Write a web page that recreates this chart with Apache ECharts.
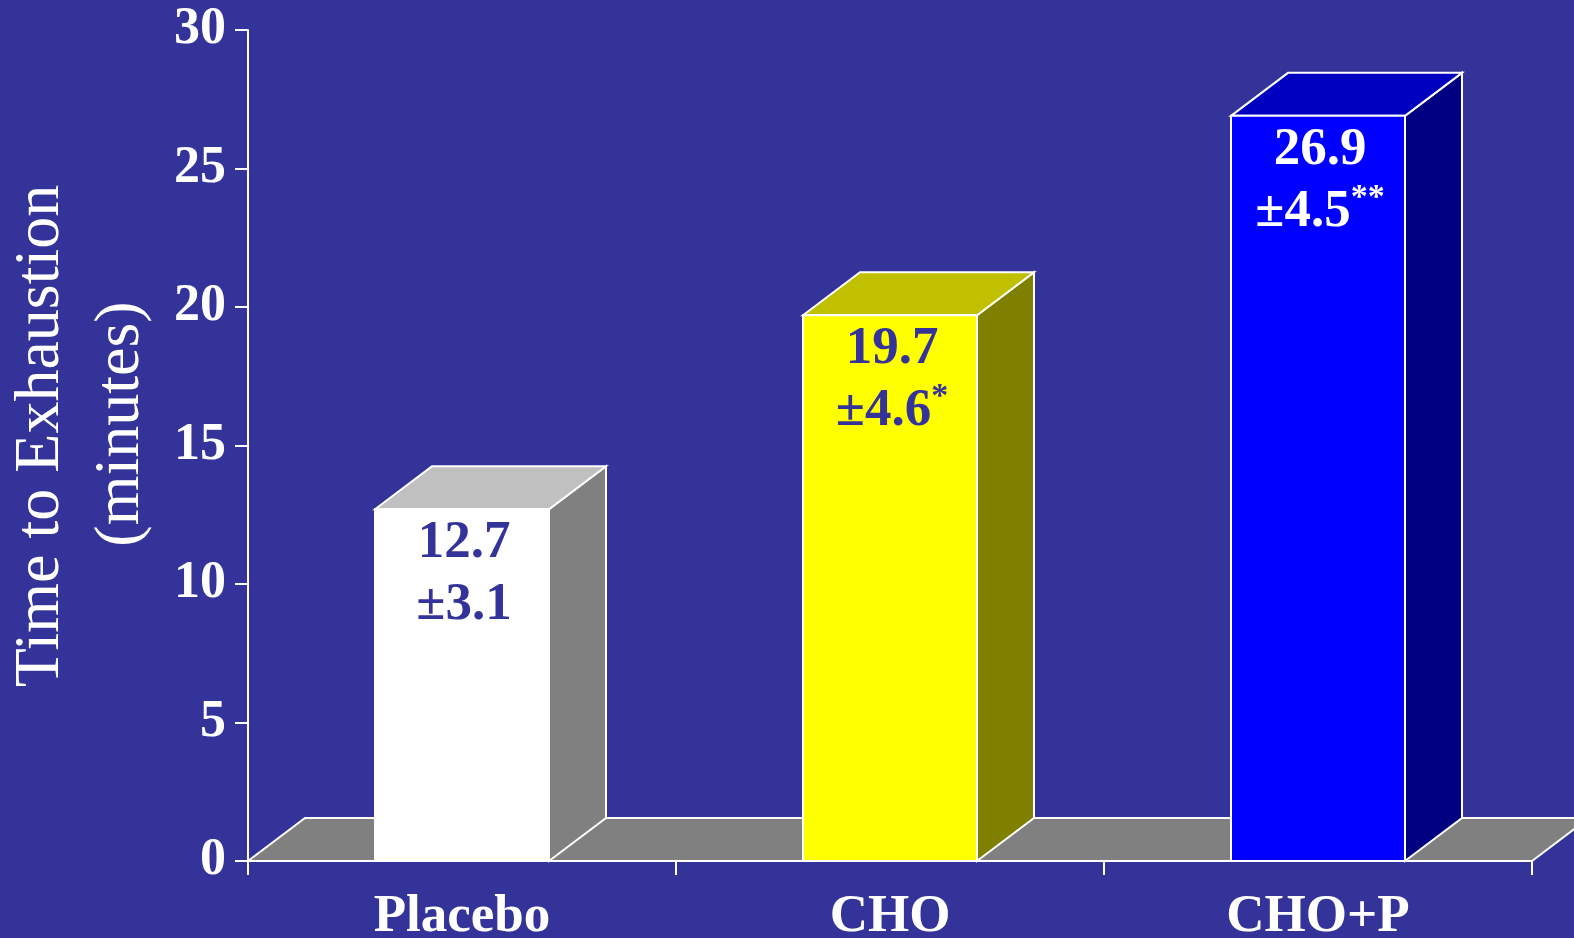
<!DOCTYPE html>
<html>
<head>
<meta charset="utf-8">
<script src="https://cdn.jsdelivr.net/npm/echarts@6/dist/echarts.min.js"></script>
<style>
  html, body { margin: 0; padding: 0; background: #333399; }
  #chart { width: 1574px; height: 938px; }
</style>
</head>
<body>
<div id="chart"></div>
<script>
// Time to exhaustion by drink condition (mean ± SD, minutes)
const categories = ['Placebo', 'CHO', 'CHO+P'];
const meanMinutes = [12.7, 19.7, 26.9];
const sdMinutes = [3.1, 4.6, 4.5];
const significance = ['', '*', '**'];
const yTicks = [0, 5, 10, 15, 20, 25, 30];

// Face colours for each bar: front, top, side, label
const faces = [
  { front: '#ffffff', top: '#c0c0c0', side: '#808080', text: '#333399' },
  { front: '#ffff00', top: '#c0c000', side: '#808000', text: '#333399' },
  { front: '#0000ff', top: '#0000c0', side: '#000080', text: '#ffffff' }
];

// Oblique depth of the pseudo-3D boxes, in pixels
const DX = 57, DY = 43;
const SERIF = '"Liberation Serif", "Times New Roman", serif';
const edge = { stroke: '#ffffff', lineWidth: 2, lineJoin: 'miter' };

function renderFloor(params, api) {
  const cs = params.coordSys;
  const yB = cs.y + cs.height;
  return {
    type: 'polygon',
    shape: { points: [[cs.x, yB], [cs.x + DX, yB - DY], [cs.x + cs.width + DX, yB - DY], [cs.x + cs.width, yB]] },
    style: Object.assign({ fill: '#808080' }, edge)
  };
}

function renderBar(params, api) {
  const i = api.value(0);
  const top = api.coord([i, api.value(1)]);
  const base = api.coord([i, 0]);
  const w = api.size([1, 0])[0] * 0.4065;
  const x0 = top[0] - w / 2, x1 = top[0] + w / 2;
  const yT = top[1], yB = base[1];
  const c = faces[i];
  const sig = significance[i];
  const label = '{m|' + meanMinutes[i].toFixed(1) + '}\n{m|\u00b1' + sdMinutes[i].toFixed(1) + '}' +
    (sig ? '{s|' + sig + '}' : '');
  return {
    type: 'group',
    children: [
      { type: 'polygon', shape: { points: [[x1, yB], [x1 + DX, yB - DY], [x1 + DX, yT - DY], [x1, yT]] },
        style: Object.assign({ fill: c.side }, edge) },
      { type: 'polygon', shape: { points: [[x0, yT], [x0 + DX, yT - DY], [x1 + DX, yT - DY], [x1, yT]] },
        style: Object.assign({ fill: c.top }, edge) },
      { type: 'rect', shape: { x: x0, y: yT, width: w, height: yB - yT },
        style: Object.assign({ fill: c.front }, edge) },
      { type: 'text', x: top[0] + 2, y: yT + 3,
        style: {
          text: label, align: 'center', verticalAlign: 'top',
          rich: {
            m: { fontFamily: SERIF, fontWeight: 'bold', fontSize: 53, lineHeight: 62, fill: c.text },
            s: { fontFamily: SERIF, fontWeight: 'bold', fontSize: 34, lineHeight: 40, verticalAlign: 'top', fill: c.text }
          }
        } }
    ]
  };
}

const chart = echarts.init(document.getElementById('chart'), null, { renderer: 'canvas' });
chart.setOption({
  backgroundColor: '#333399',
  animation: false,
  grid: { left: 248, right: 42, top: 30, bottom: 77, containLabel: false, outerBoundsMode: 'none' },
  xAxis: {
    type: 'category',
    data: categories,
    boundaryGap: true,
    axisLine: { lineStyle: { color: '#ffffff', width: 2 } },
    axisTick: { show: true, length: 14, lineStyle: { color: '#ffffff', width: 2 } },
    axisLabel: { color: '#ffffff', fontFamily: SERIF, fontWeight: 'bold', fontSize: 53, margin: 30 },
    splitLine: { show: false }
  },
  yAxis: {
    type: 'value',
    min: yTicks[0],
    max: yTicks[yTicks.length - 1],
    interval: yTicks[1] - yTicks[0],
    axisLine: { show: true, lineStyle: { color: '#ffffff', width: 2 } },
    axisTick: { show: true, length: 13, lineStyle: { color: '#ffffff', width: 2 } },
    axisLabel: { color: '#ffffff', fontFamily: SERIF, fontWeight: 'bold', fontSize: 52, margin: 22 },
    splitLine: { show: false }
  },
  graphic: [
    { type: 'text', x: 41, y: 436, rotation: Math.PI / 2,
      style: { text: 'Time to Exhaustion', fontFamily: SERIF, fontSize: 64, fill: '#ffffff', align: 'center', verticalAlign: 'middle' } },
    { type: 'text', x: 121, y: 424, rotation: Math.PI / 2,
      style: { text: '(minutes)', fontFamily: SERIF, fontSize: 64, fill: '#ffffff', align: 'center', verticalAlign: 'middle' } }
  ],
  series: [
    { type: 'custom', z: 1, renderItem: renderFloor, data: [[0, 0]], silent: true, clip: false },
    { type: 'custom', z: 2, renderItem: renderBar, data: meanMinutes.map((v, i) => [i, v]), silent: true, clip: false }
  ]
});
</script>
</body>
</html>
